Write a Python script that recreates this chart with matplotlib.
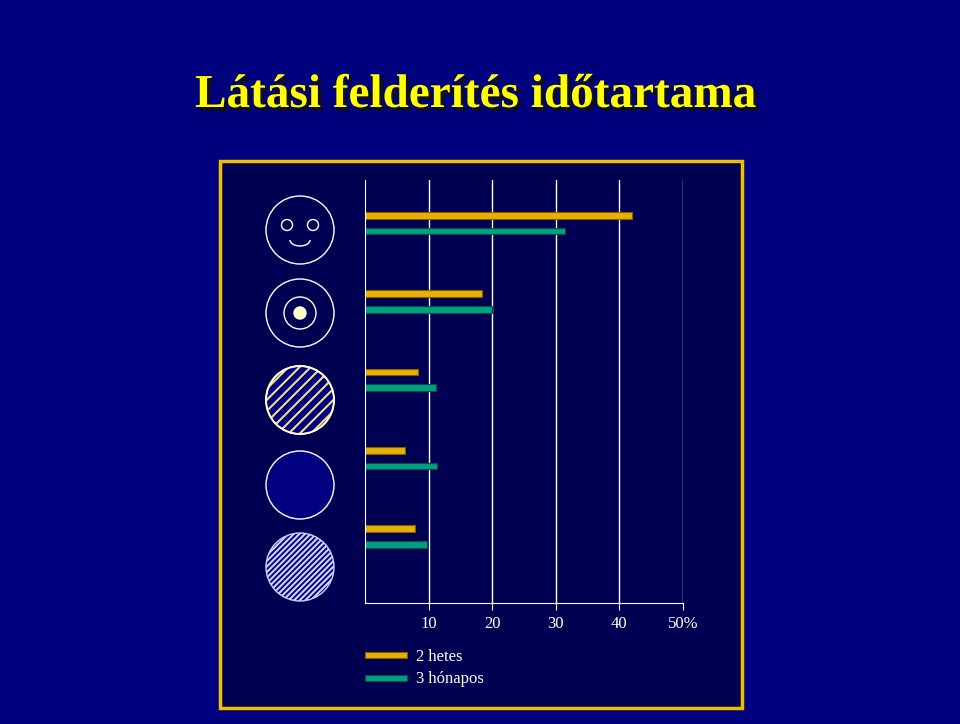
import matplotlib.pyplot as plt
import matplotlib.patheffects as pe
from matplotlib.patches import Circle, Rectangle, Arc

title = "Látási felderítés időtartama"
series_names = ["2 hetes", "3 hónapos"]
two_weeks = [42.0, 18.4, 8.4, 6.3, 7.8]
three_months = [31.4, 20.0, 11.1, 11.3, 9.8]
xticks = [10, 20, 30, 40, 50]
xticklabels = ["10", "20", "30", "40", "50%"]

W, H = 960, 724
plt.rcParams["hatch.linewidth"] = 1.5
fig = plt.figure(figsize=(9.6, 7.24), dpi=100, facecolor="#00007e")

# full-figure pixel axes for decorations
bg = fig.add_axes([0, 0, 1, 1])
bg.set_xlim(0, W)
bg.set_ylim(H, 0)
bg.axis("off")
bg.add_patch(Rectangle((220, 161), 522, 547, facecolor="#000052", edgecolor="#f0c000", lw=2.5))
bg.text(195, 96, title, fontsize=34, fontweight="bold", color="#ffff00", family="Liberation Serif",
        va="center", path_effects=[pe.withSimplePatchShadow(offset=(2.5, -2.5), shadow_rgbFace="#101010", alpha=1)])

ys = [230, 313, 400, 485, 567]
r = 34
# smiley
bg.add_patch(Circle((300, ys[0]), r, fill=False, ec="white", lw=1))
bg.add_patch(Circle((287, ys[0] - 5), 5.5, fill=False, ec="white", lw=1))
bg.add_patch(Circle((313, ys[0] - 5), 5.5, fill=False, ec="white", lw=1))
bg.add_patch(Arc((300, ys[0] + 10), 20, 12, theta1=0, theta2=180, ec="white", lw=1))
# target
bg.add_patch(Circle((300, ys[1]), r, fill=False, ec="white", lw=1))
bg.add_patch(Circle((300, ys[1]), 16, fill=False, ec="white", lw=1))
bg.add_patch(Circle((300, ys[1]), 6, fc="#ffffc0", ec="white", lw=1))
# yellow hatched
bg.add_patch(Circle((300, ys[2]), r, fc="#000080", ec="#f0e080", lw=1.5, hatch="///"))
bg.add_patch(Circle((300, ys[2]), r, fill=False, ec="white", lw=1))
# plain
bg.add_patch(Circle((300, ys[3]), r, fc="#000080", ec="white", lw=1))
# fine hatched
bg.add_patch(Circle((300, ys[4]), r, fc="#000080", ec="#d0d0ff", lw=1, hatch="//////"))

# legend swatches
bg.add_patch(Rectangle((365, 652), 42, 6, fc="#e8b000", ec="#806000", lw=0.8))
bg.add_patch(Rectangle((365, 675), 42, 6, fc="#00a080", ec="#005040", lw=0.8))
bg.text(416, 657, series_names[0], fontsize=12, color="white", family="Liberation Serif", va="center")
bg.text(416, 679, series_names[1], fontsize=12, color="white", family="Liberation Serif", va="center")

# data axes
ax = fig.add_axes([365 / W, 1 - 603 / H, (683 - 365) / W, (603 - 180) / H])
ax.patch.set_alpha(0)
ax.set_xlim(0, 50)
ax.set_ylim(4.85, -0.55)
pos = list(range(len(two_weeks)))
h = 0.085
ax.barh([p - 0.1 for p in pos], two_weeks, height=h, color="#e8b000", edgecolor="#806000", lw=0.8)
ax.barh([p + 0.1 for p in pos], three_months, height=h, color="#00a080", edgecolor="#005040", lw=0.8)
for t in xticks:
    ax.axvline(t, color="white", lw=1, zorder=0)
ax.set_xticks(xticks)
ax.set_xticklabels(xticklabels, color="white", fontsize=12, family="Liberation Serif")
ax.tick_params(axis="x", colors="white", length=5, direction="out", pad=4)
ax.set_yticks([])
for s in ["top", "right"]:
    ax.spines[s].set_visible(False)
ax.spines["left"].set_color("white")
ax.spines["bottom"].set_color("white")

fig.savefig("out.png", dpi=100, facecolor=fig.get_facecolor())
